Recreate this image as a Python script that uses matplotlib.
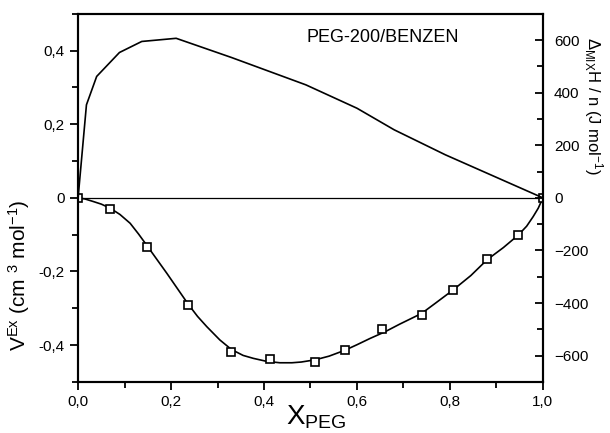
import matplotlib
matplotlib.use("Agg")
import matplotlib.pyplot as plt
from matplotlib.ticker import FixedLocator, MultipleLocator

plt.rcParams["font.family"] = ["Liberation Sans", "DejaVu Sans"]
plt.rcParams["mathtext.default"] = "regular"

# excess volume, measured points (left axis)
x_meas = [0.0, 0.069, 0.149, 0.237, 0.330, 0.413, 0.510, 0.574, 0.653, 0.739, 0.807, 0.880, 0.947, 1.0]
v_meas = [0.0, -0.030, -0.1325, -0.291, -0.418, -0.439, -0.445, -0.412, -0.355, -0.317, -0.250, -0.166, -0.101, 0.0]

# fitted curve
x_fit = [0.0, 0.015, 0.033, 0.050, 0.069, 0.090, 0.112, 0.130, 0.149, 0.170, 0.191, 0.214,
         0.237, 0.257, 0.277, 0.305, 0.330, 0.355, 0.377, 0.405, 0.434, 0.460, 0.480, 0.510,
         0.540, 0.574, 0.600, 0.628, 0.660, 0.692, 0.739, 0.770, 0.807, 0.845, 0.880, 0.915,
         0.947, 0.965, 0.979, 0.990, 1.0]
v_fit = [0.0, -0.003, -0.010, -0.017, -0.028, -0.045, -0.069, -0.098, -0.131, -0.168, -0.205, -0.247,
         -0.289, -0.322, -0.350, -0.386, -0.412, -0.428, -0.436, -0.444, -0.448, -0.448, -0.446, -0.440,
         -0.430, -0.414, -0.399, -0.382, -0.364, -0.343, -0.314, -0.285, -0.250, -0.211, -0.168, -0.135,
         -0.101, -0.077, -0.051, -0.028, 0.0]

# mixing enthalpy (right axis)
x_h = [0.0, 0.018, 0.040, 0.089, 0.137, 0.211, 0.330, 0.490, 0.600, 0.680, 0.790, 1.0]
h_mix = [0.0, 354, 462, 553, 595, 607, 534, 430, 341, 259, 164, 0.0]

x_ticks = [0.0, 0.2, 0.4, 0.6, 0.8, 1.0]
x_labels = ["0,0", "0,2", "0,4", "0,6", "0,8", "1,0"]
v_ticks = [-0.4, -0.2, 0.0, 0.2, 0.4]
v_labels = ["-0,4", "-0,2", "0", "0,2", "0,4"]
h_ticks = [-600, -400, -200, 0, 200, 400, 600]

fig = plt.figure(figsize=(6.1, 4.33), dpi=100)
ax = fig.add_axes([0.128, 0.118, 0.762, 0.850])
ax2 = ax.twinx()

ax.axhline(0, color="black", lw=0.9)
ax.plot(x_fit, v_fit, color="black", lw=1.2)
ax.plot(x_meas, v_meas, ls="none", marker="s", ms=6, mfc="white", mec="black", mew=1.2)
ax2.plot(x_h, h_mix, color="black", lw=1.2)

ax.set_xlim(0, 1)
ax.set_ylim(-0.5, 0.5)
ax2.set_ylim(-700, 700)

ax.xaxis.set_major_locator(FixedLocator(x_ticks))
ax.set_xticklabels(x_labels)
ax.xaxis.set_minor_locator(MultipleLocator(0.1))
ax.yaxis.set_major_locator(FixedLocator(v_ticks))
ax.set_yticklabels(v_labels)
ax.yaxis.set_minor_locator(MultipleLocator(0.1))
ax2.yaxis.set_major_locator(FixedLocator(h_ticks))
ax2.yaxis.set_minor_locator(MultipleLocator(100))

ax.tick_params(which="both", direction="out", labelsize=11, width=1.3, top=False)
ax.tick_params(which="major", length=6)
ax.tick_params(which="minor", length=4)
ax2.tick_params(which="both", direction="in", labelsize=11, width=1.3, pad=8)
ax2.tick_params(which="major", length=6)
ax2.tick_params(which="minor", length=4)

for a in (ax, ax2):
    for s in a.spines.values():
        s.set_linewidth(1.5)

ax.set_ylabel("V$^{Ex}$ (cm $^{3}$ mol$^{-1}$)", fontsize=15)
ax.yaxis.set_label_coords(-0.099, 0.29)
ax2.set_ylabel("Δ$_{MIX}$H / n (J mol$^{-1}$)", fontsize=12, rotation=270, va="center")
ax2.yaxis.set_label_coords(1.108, 0.75)

ax.text(0.512, -0.095, "X$_{PEG}$", transform=ax.transAxes, fontsize=20,
        ha="center", va="center")
ax.text(0.656, 0.935, "PEG-200/BENZEN", transform=ax.transAxes, fontsize=13,
        ha="center", va="center")

fig.savefig("out.png", dpi=100)
